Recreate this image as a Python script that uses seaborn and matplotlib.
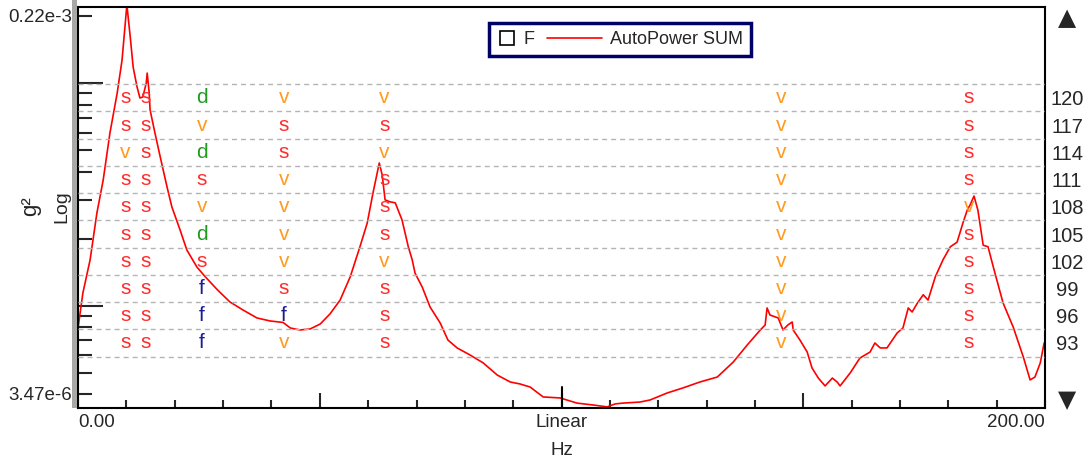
import numpy as np
import pandas as pd
import matplotlib
matplotlib.use("Agg")
import matplotlib.pyplot as plt
import seaborn as sns
from matplotlib.lines import Line2D
from matplotlib.legend_handler import HandlerLine2D
from matplotlib.patches import Rectangle
from matplotlib.ticker import LogLocator, MultipleLocator, NullFormatter, FixedLocator
from matplotlib.transforms import blended_transform_factory

# AutoPower SUM spectrum (Hz, g^2)
freq_hz = [0.0, 1.0, 2.5, 3.9, 5.2, 6.6, 8.1, 9.1, 9.7, 10.1,
           10.8, 11.4, 12.2, 12.8, 13.4, 14.1, 14.3, 14.7, 14.9, 15.9,
           17.0, 18.4, 19.4, 21.1, 22.5, 24.6, 26.3, 28.8, 31.4, 34.1,
           37.0, 39.7, 42.4, 43.9, 45.9, 48.0, 50.1, 52.1, 54.2, 56.3,
           58.3, 59.8, 61.0, 62.3, 62.9, 63.5, 64.5, 65.6, 67.0, 68.3,
           69.1, 69.7, 71.2, 72.8, 74.9, 76.5, 78.4, 81.1, 83.8, 86.7,
           89.4, 91.4, 93.5, 96.2, 99.7, 103.2, 106.5, 109.4, 111.1, 112.7,
           116.2, 118.3, 121.8, 125.1, 128.6, 132.2, 135.5, 138.4, 141.1, 142.1,
           142.5, 143.1, 144.8, 145.8, 146.8, 147.7, 147.9, 149.3, 150.8, 151.8,
           153.1, 154.5, 156.0, 157.0, 157.6, 159.7, 161.7, 163.8, 164.8, 165.9,
           167.3, 169.4, 170.6, 171.7, 172.5, 173.5, 174.8, 175.8, 177.3, 178.9,
           180.4, 181.8, 183.0, 183.9, 184.5, 185.3, 186.1, 187.2, 188.2, 189.3,
           191.3, 193.4, 195.5, 196.9, 197.9, 199.0, 199.8]
autopower = [7.94e-6, 1.14e-5, 1.61e-5, 2.61e-5, 3.67e-5, 5.98e-5, 9.04e-5, 1.27e-4, 1.79e-4, 2.25e-4,
             1.61e-4, 1.18e-4, 9.62e-5, 8.58e-5, 8.67e-5, 1.00e-4, 1.11e-4, 9.13e-5, 7.58e-5, 5.98e-5,
             4.66e-5, 3.42e-5, 2.78e-5, 2.19e-5, 1.78e-5, 1.49e-5, 1.35e-5, 1.18e-5, 1.04e-5, 9.57e-6,
             8.81e-6, 8.54e-6, 8.41e-6, 7.94e-6, 7.78e-6, 7.86e-6, 8.28e-6, 9.18e-6, 1.06e-5, 1.35e-5,
             1.84e-5, 2.35e-5, 3.21e-5, 4.38e-5, 3.87e-5, 2.99e-5, 2.93e-5, 2.90e-5, 2.43e-5, 1.84e-5,
             1.61e-5, 1.40e-5, 1.21e-5, 9.87e-6, 8.36e-6, 7.01e-6, 6.46e-6, 6.00e-6, 5.53e-6, 4.88e-6,
             4.54e-6, 4.45e-6, 4.31e-6, 3.89e-6, 3.85e-6, 3.65e-6, 3.58e-6, 3.51e-6, 3.62e-6, 3.65e-6,
             3.69e-6, 3.77e-6, 4.05e-6, 4.27e-6, 4.54e-6, 4.78e-6, 5.58e-6, 6.66e-6, 7.78e-6, 8.19e-6,
             9.77e-6, 9.08e-6, 8.81e-6, 7.78e-6, 8.19e-6, 8.45e-6, 7.78e-6, 7.01e-6, 6.19e-6, 5.25e-6,
             4.73e-6, 4.36e-6, 4.73e-6, 4.54e-6, 4.36e-6, 4.99e-6, 5.82e-6, 6.19e-6, 6.80e-6, 6.46e-6,
             6.46e-6, 7.54e-6, 7.94e-6, 9.77e-6, 9.37e-6, 1.02e-5, 1.12e-5, 1.06e-5, 1.35e-5, 1.61e-5,
             1.84e-5, 1.93e-5, 2.35e-5, 2.69e-5, 2.84e-5, 3.11e-5, 2.69e-5, 1.87e-5, 1.84e-5, 1.49e-5,
             1.03e-5, 8.02e-6, 5.88e-6, 4.64e-6, 4.78e-6, 5.53e-6, 6.80e-6]

# stabilisation diagram: pole frequencies, model orders and the status letter per order
pole_freqs = [9.8, 13.9, 25.6, 42.6, 63.4, 145.4, 184.2]
model_orders = [120, 117, 114, 111, 108, 105, 102, 99, 96, 93]
pole_codes = ["ssdvvvs", "ssvssvs", "vsdsvvs", "sssvsvs", "ssvvsvv",
              "ssdvsvs", "sssvvvs", "ssfssvs", "ssffsvs", "ssfvsvs"]
code_colors = {"s": "#ff2b2b", "v": "#ff9a1f", "d": "#229a22", "f": "#1c1c96"}

y_min, y_max = 3.47e-6, 0.22e-3
order_min, order_max = 85.84, 130.0


class WideLineHandler(HandlerLine2D):
    # legend line that reaches back into the column gap
    def create_artists(self, legend, orig_handle, xdescent, ydescent, width, height, fontsize, trans):
        artists = super().create_artists(legend, orig_handle, xdescent, ydescent, width, height, fontsize, trans)
        artists[0].set_xdata(np.linspace(width - 3.0 * fontsize, width, 3))
        return artists


sns.set_style("white")
plt.rcParams['font.family'] = ['Liberation Sans', 'DejaVu Sans']

fig = plt.figure(figsize=(10.9, 4.62), dpi=100)
ax = fig.add_axes([0.0716, 0.1169, 0.8872, 0.8680])

df = pd.DataFrame({'Hz': freq_hz, 'AutoPower SUM': autopower})
sns.lineplot(data=df, x='Hz', y='AutoPower SUM', ax=ax, color='#ff0000', linewidth=1.2)
red_line = ax.lines[0]

ax.set_yscale('log')
ax.set_xlim(0, 200)
ax.set_ylim(y_min, y_max)
ax.set_xlabel('')
ax.set_ylabel('')

for side in ['left', 'right', 'top', 'bottom']:
    ax.spines[side].set_color('black')
    ax.spines[side].set_linewidth(1.5)

# log ticks pointing inward, no labels (limits are written as text)
ax.yaxis.set_major_locator(LogLocator(base=10))
ax.yaxis.set_minor_locator(LogLocator(base=10, subs=np.arange(2, 10)))
ax.yaxis.set_major_formatter(NullFormatter())
ax.yaxis.set_minor_formatter(NullFormatter())
ax.tick_params(axis='y', which='major', direction='in', length=18, width=1.5, left=True)
ax.tick_params(axis='y', which='minor', direction='in', length=10, width=1.5, left=True)

ax.xaxis.set_major_locator(FixedLocator([50, 100, 150]))
ax.xaxis.set_minor_locator(MultipleLocator(10))
ax.xaxis.set_major_formatter(NullFormatter())
ax.tick_params(axis='x', which='major', direction='in', length=11, width=1.5, bottom=True)
ax.tick_params(axis='x', which='minor', direction='in', length=6, width=1.5, bottom=True)
ax.axvline(100, ymin=0, ymax=21 / 401, color='black', linewidth=1.5)

ax.text(-0.006, 0.975, '0.22e-3', transform=ax.transAxes, ha='right', va='center', fontsize=13.5)
ax.text(-0.006, 0.032, '3.47e-6', transform=ax.transAxes, ha='right', va='center', fontsize=13.5)

xt = blended_transform_factory(ax.transData, ax.transAxes)
ax.text(0, -0.037, '0.00', transform=xt, ha='left', va='center', fontsize=13.5)
ax.text(200, -0.037, '200.00', transform=xt, ha='right', va='center', fontsize=13.5)
ax.text(100, -0.037, 'Linear', transform=xt, ha='center', va='center', fontsize=13.5)
ax.text(100, -0.105, 'Hz', transform=xt, ha='center', va='center', fontsize=13.5)

# model order axis on the right
ax2 = ax.twinx()
ax2.set_ylim(order_min, order_max)
ax2.set_yticks(model_orders)
ax2.tick_params(axis='y', length=0, pad=15.8, labelsize=14.5)
for lab in ax2.get_yticklabels():
    lab.set_horizontalalignment('center')
for side in ['left', 'right', 'top', 'bottom']:
    ax2.spines[side].set_visible(False)

boundaries = [o - 1.5 for o in model_orders] + [model_orders[0] + 1.5]
for b in boundaries:
    ax2.axhline(b, color='#b4b4b4', linewidth=1.0, dashes=(3.6, 2.9))

for order, codes in zip(model_orders, pole_codes):
    for f, c in zip(pole_freqs, codes):
        ax2.text(f, order, c, color=code_colors[c], ha='center', va='center', fontsize=15)

sq_handle = Line2D([], [], ls='none', marker='s', markersize=10,
                   markerfacecolor='white', markeredgecolor='black', markeredgewidth=1.2)
leg = ax2.legend([sq_handle, red_line], ['F', 'AutoPower SUM'], ncol=2,
                 loc='upper center', bbox_to_anchor=(0.5605, 0.9825),
                 handlelength=1.0, handletextpad=0.45, columnspacing=2.7,
                 borderpad=0.45, fontsize=13, frameon=True, fancybox=False,
                 framealpha=1, edgecolor='#000066',
                 handler_map={red_line: WideLineHandler()})
leg.get_frame().set_linewidth(2.5)

# axis captions and scroll arrows
fig.text(31 / 1090, 1 - 206 / 462, 'g²', rotation=90, ha='center', va='center', fontsize=16)
fig.text(62 / 1090, 1 - 207 / 462, 'Log', rotation=90, ha='center', va='center', fontsize=14)
fig.text(1067 / 1090, 1 - 18 / 462, '▲', ha='center', va='center', fontsize=17, family=['DejaVu Sans'])
fig.text(1067 / 1090, 1 - 400 / 462, '▼', ha='center', va='center', fontsize=17, family=['DejaVu Sans'])

# grey shading on the left of the y axis
fig.patches.append(Rectangle((72 / 1090, 1 - 408 / 462), 5 / 1090, 408 / 462,
                             transform=fig.transFigure, facecolor='#a8a8a4', edgecolor='none'))

fig.savefig('out.png', dpi=100)
